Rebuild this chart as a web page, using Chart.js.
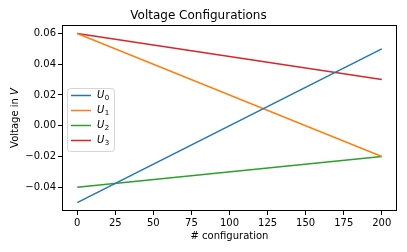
<!DOCTYPE html>
<html lang="en">
<head>
<meta charset="UTF-8">
<script src="https://cdn.jsdelivr.net/npm/chart.js"></script>
<style>
  html, body { margin: 0; padding: 0; background: #fff; }
  #wrap { width: 407px; height: 252px; }
</style>
</head>
<body>
<div id="wrap"><canvas id="chart" width="407" height="252"></canvas></div>
<script>
// data
const configs = [0, 200];
const u0 = [-0.05, 0.05];
const u1 = [0.06, -0.02];
const u2 = [-0.04, -0.02];
const u3 = [0.06, 0.03];
const seriesNames = ['0', '1', '2', '3'];
const colors = ['#1f77b4', '#ff7f0e', '#2ca02c', '#d62728'];
const xTicks = [0, 25, 50, 75, 100, 125, 150, 175, 200];
const yTicks = [-0.04, -0.02, 0.00, 0.02, 0.04, 0.06];

const FONT = "'DejaVu Sans', sans-serif";

function points(vals) {
    return configs.map((x, i) => ({x: x, y: vals[i]}));
}

// frame on all four sides + custom legend + y title with italic V
const extras = {
    id: 'extras',
    afterDatasetsDraw(chart) {
        const ctx = chart.ctx;
        const a = chart.chartArea;
        ctx.save();
        ctx.strokeStyle = '#000';
        ctx.lineWidth = 1;
        ctx.strokeRect(Math.round(a.left) + 0.5, Math.round(a.top) + 0.5,
                       Math.round(a.right - a.left) - 1, Math.round(a.bottom - a.top) - 1);

        // legend box
        const bx = 67, by = 88, bw = 47, bh = 63;
        ctx.beginPath();
        ctx.roundRect(bx + 0.5, by + 0.5, bw, bh, 3);
        ctx.fillStyle = 'rgba(255,255,255,0.8)';
        ctx.fill();
        ctx.strokeStyle = 'rgba(204,204,204,0.8)';
        ctx.stroke();
        chart.data.datasets.forEach((ds, i) => {
            const y = 95.5 + i * 15;
            ctx.beginPath();
            ctx.strokeStyle = ds.borderColor;
            ctx.lineWidth = 1.5;
            ctx.moveTo(71, y);
            ctx.lineTo(91, y);
            ctx.stroke();
            ctx.fillStyle = '#000';
            ctx.textBaseline = 'middle';
            ctx.textAlign = 'left';
            ctx.font = 'italic 10px ' + FONT;
            ctx.fillText('U', 97, y);
            const w = ctx.measureText('U').width;
            ctx.font = '7px ' + FONT;
            ctx.fillText(seriesNames[i], 97 + w + 0.5, y + 3);
        });

        // y axis title
        ctx.translate(15, (a.top + a.bottom) / 2);
        ctx.rotate(-Math.PI / 2);
        ctx.fillStyle = '#000';
        ctx.textBaseline = 'middle';
        ctx.font = '10px ' + FONT;
        const t1 = 'Voltage in ';
        const w1 = ctx.measureText(t1).width;
        ctx.font = 'italic 10px ' + FONT;
        const w2 = ctx.measureText('V').width;
        const start = -(w1 + w2) / 2;
        ctx.textAlign = 'left';
        ctx.font = '10px ' + FONT;
        ctx.fillText(t1, start, 0);
        ctx.font = 'italic 10px ' + FONT;
        ctx.fillText('V', start + w1, 0);
        ctx.restore();
    }
};

new Chart(document.getElementById('chart'), {
    type: 'line',
    data: {
        datasets: [u0, u1, u2, u3].map((vals, i) => ({
            label: 'U' + seriesNames[i],
            data: points(vals),
            borderColor: colors[i],
            backgroundColor: colors[i],
            borderWidth: 1.5,
            pointRadius: 0,
            tension: 0,
            fill: false
        }))
    },
    options: {
        responsive: false,
        animation: false,
        devicePixelRatio: 1,
        layout: { padding: { left: 0, right: 10, top: 0, bottom: 0 } },
        plugins: {
            legend: { display: false },
            tooltip: { enabled: false },
            title: {
                display: true,
                text: 'Voltage Configurations',
                color: '#000',
                font: { family: FONT, size: 12, weight: 'normal' },
                padding: { top: 9, bottom: 1.6 }
            }
        },
        scales: {
            x: {
                type: 'linear',
                min: -10,
                max: 210,
                afterBuildTicks: s => { s.ticks = xTicks.map(v => ({value: v})); },
                afterFit: s => { s.height = 41; },
                grid: { drawOnChartArea: false, tickLength: 4, tickColor: '#000' },
                border: { display: false },
                ticks: {
                    color: '#000',
                    font: { family: FONT, size: 10 },
                    padding: 2,
                    maxRotation: 0
                },
                title: {
                    display: true,
                    text: '# configuration',
                    color: '#000',
                    font: { family: FONT, size: 10 },
                    padding: { top: 1, bottom: 10 }
                }
            },
            y: {
                min: -0.0555,
                max: 0.0655,
                afterBuildTicks: s => { s.ticks = yTicks.map(v => ({value: v})); },
                afterFit: s => { s.width = 62; },
                grid: { drawOnChartArea: false, tickLength: 4, tickColor: '#000' },
                border: { display: false },
                ticks: {
                    color: '#000',
                    font: { family: FONT, size: 10 },
                    padding: 2,
                    callback: v => (v < 0 ? '\u2212' : '') + Math.abs(v).toFixed(2)
                }
            }
        }
    },
    plugins: [extras]
});
</script>
</body>
</html>
